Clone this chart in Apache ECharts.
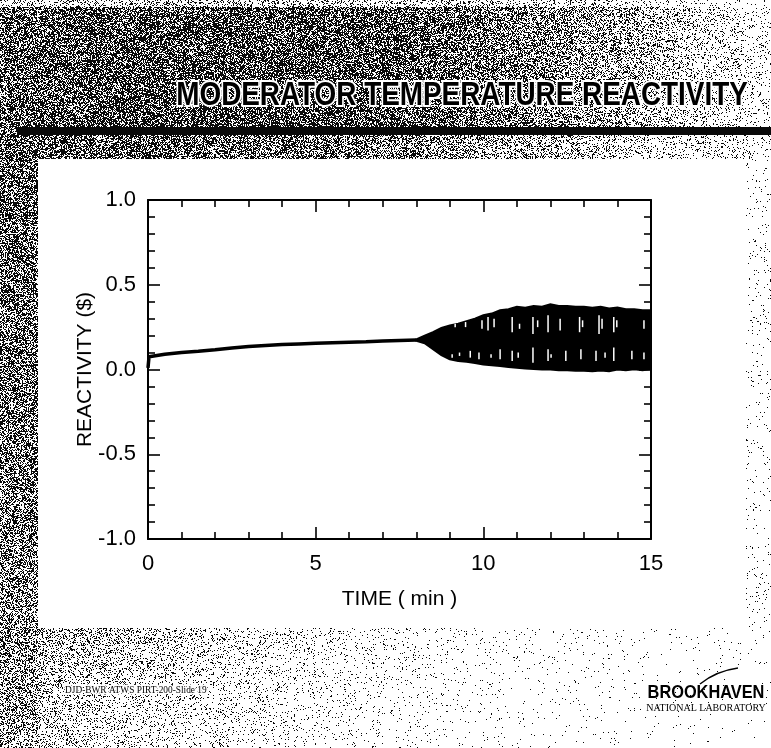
<!DOCTYPE html>
<html>
<head>
<meta charset="utf-8">
<script src="https://cdn.jsdelivr.net/npm/echarts@6/dist/echarts.min.js"></script>
<style>
html,body{margin:0;padding:0;background:#fff;}
#chart{width:771px;height:748px;background-repeat:no-repeat;}
</style>
</head>
<body>
<div id="chart"></div>
<script>
// ---------- data ----------
const titleText = 'MODERATOR TEMPERATURE REACTIVITY';
const xName = 'TIME ( min )';
const yName = 'REACTIVITY ($)';
const footerText = 'DJD-BWR ATWS PIRT-200-Slide 19';
const logoText = 'BROOKHAVEN';
const logoSub = 'NATIONAL LABORATORY';

const xTicks = [0, 5, 10, 15];
const yTicks = [-1.0, -0.5, 0.0, 0.5, 1.0];

// smooth (pre-oscillation) part
const smoothTime = [0, 0.03, 0.5, 1, 1.5, 2, 2.5, 3, 3.5, 4, 4.5, 5, 5.5, 6, 6.5, 7, 7.5, 8];
const smoothReact = [0.01, 0.075, 0.09, 0.10, 0.108, 0.117, 0.127, 0.135, 0.141, 0.147, 0.151, 0.155, 0.158, 0.161, 0.164, 0.168, 0.171, 0.174];

// oscillation envelope (upper / lower)
const bandTime  = [8.0, 8.25, 8.5, 8.75, 9.0, 9.25, 9.5, 9.75, 10.0, 10.25, 10.5, 10.75, 11.0, 11.25, 11.5, 11.75, 12.0, 12.25, 12.5, 12.75, 13.0, 13.25, 13.5, 13.75, 14.0, 14.25, 14.5, 14.75, 15.0];
const bandUpper = [0.178, 0.20, 0.22, 0.245, 0.26, 0.27, 0.285, 0.30, 0.32, 0.33, 0.35, 0.355, 0.37, 0.365, 0.375, 0.37, 0.385, 0.375, 0.375, 0.37, 0.37, 0.365, 0.37, 0.36, 0.365, 0.355, 0.355, 0.35, 0.35];
const bandLower = [0.17, 0.155, 0.12, 0.085, 0.06, 0.05, 0.045, 0.038, 0.03, 0.025, 0.02, 0.015, 0.01, 0.006, 0.003, 0.0, 0.0, -0.004, -0.005, -0.008, -0.007, -0.01, -0.006, -0.01, 0.0, -0.005, 0.002, -0.004, 0.003];

// white gaps visible inside the oscillation band (time, low, high)
const gapTime = [9.16, 9.47, 9.96, 10.14, 10.32, 10.86, 11.08, 11.48, 11.62, 11.93, 12.29, 12.87, 12.96, 13.45, 13.54, 13.89, 13.98, 14.79,
                 9.07, 9.29, 9.61, 9.87, 10.23, 10.5, 10.86, 11.04, 11.48, 11.93, 12.02, 12.46, 12.91, 13.36, 13.63, 13.89, 14.43, 14.79];
const gapLow  = [0.25, 0.25, 0.24, 0.23, 0.25, 0.22, 0.24, 0.21, 0.25, 0.22, 0.23, 0.22, 0.25, 0.21, 0.24, 0.22, 0.25, 0.24,
                 0.07, 0.08, 0.07, 0.06, 0.07, 0.06, 0.05, 0.07, 0.04, 0.05, 0.07, 0.05, 0.06, 0.05, 0.07, 0.05, 0.06, 0.06];
const gapHigh = [0.27, 0.28, 0.29, 0.31, 0.30, 0.31, 0.27, 0.31, 0.29, 0.32, 0.30, 0.31, 0.29, 0.32, 0.30, 0.31, 0.29, 0.29,
                 0.09, 0.10, 0.11, 0.10, 0.09, 0.12, 0.11, 0.10, 0.13, 0.12, 0.09, 0.11, 0.12, 0.11, 0.10, 0.13, 0.11, 0.10];

// ---------- decorative dithered slide background (deterministic) ----------
function pw(v, pts){
  if (v <= pts[0][0]) return pts[0][1];
  for (let i=1;i<pts.length;i++){
    if (v <= pts[i][0]){
      const a=pts[i-1], b=pts[i];
      return a[1] + (b[1]-a[1])*(v-a[0])/(b[0]-a[0]);
    }
  }
  return pts[pts.length-1][1];
}
function hash(x,y){
  let n = Math.imul(x, 374761393) + Math.imul(y, 668265263);
  n = Math.imul(n ^ (n >>> 13), 1274126177);
  n = n ^ (n >>> 16);
  return ((n >>> 0) % 10007) / 10007;
}
function dens(x,y){
  if (y < 127) {
    let d = pw(x, [[0,0.6],[150,0.68],[380,0.66],[470,0.56],[560,0.45],[630,0.32],[700,0.17],[771,0.08]]);
    if (y < 7) d *= 0.35;
    return d;
  }
  if (y < 135) return (x >= 17) ? 1 : 0.6;
  if (y < 159) return pw(x, [[0,0.62],[300,0.56],[450,0.42],[560,0.28],[660,0.16],[771,0.1]]);
  if (x < 38) return pw(y, [[159,0.6],[500,0.52],[620,0.45],[748,0.35]]);
  if (y >= 628) return pw(x, [[38,0.35],[150,0.22],[260,0.13],[380,0.07],[500,0.03],[771,0.01]]) * pw(y, [[628,1],[670,0.75],[748,0.5]]);
  if (x > 745) return 0.03;
  return 0;
}
(function(){
  const W=771, H=748;
  const c=document.createElement('canvas'); c.width=W; c.height=H;
  const g=c.getContext('2d');
  const img=g.createImageData(W,H);
  for(let y=0;y<H;y++){
    for(let x=0;x<W;x++){
      const d=dens(x,y);
      const h=hash(x,y);
      const v = (d>=1 || h<d) ? 10 : 255;
      const k=(y*W+x)*4;
      img.data[k]=v; img.data[k+1]=v; img.data[k+2]=v; img.data[k+3]=255;
    }
  }
  g.putImageData(img,0,0);
  document.getElementById('chart').style.backgroundImage='url('+c.toDataURL()+')';
})();

// ---------- chart ----------
const chart = echarts.init(document.getElementById('chart'), null, {renderer:'canvas'});
const FONT = '"Liberation Sans", Arial, sans-serif';

const axisCommon = {
  type: 'value',
  axisLine: {show:true, onZero:false, lineStyle:{color:'#000', width:2}},
  axisTick: {show:true, inside:true, length:12, lineStyle:{color:'#000', width:1.6}},
  minorTick: {show:true, splitNumber:5, length:7, lineStyle:{color:'#000', width:1.6}},
  splitLine: {show:false},
  minorSplitLine: {show:false}
};

const smoothData = smoothTime.map((t,i)=>[t, smoothReact[i]]);
const gapData = gapTime.map((t,i)=>[t, gapLow[i], gapHigh[i]]);

chart.setOption({
  backgroundColor: 'transparent',
  animation: false,
  grid: {left:148, right:120, top:200, bottom:209, containLabel:false},
  xAxis: [
    Object.assign({}, axisCommon, {
      min: xTicks[0], max: xTicks[xTicks.length-1], interval: 5, position:'bottom',
      axisLabel: {show:true, color:'#000', fontSize:22, fontFamily:FONT, margin:14,
        formatter: v => xTicks.indexOf(v) >= 0 ? String(v) : ''},
      name: xName, nameLocation:'middle', nameGap:50,
      nameTextStyle: {color:'#000', fontSize:21, fontFamily:FONT}
    }),
    Object.assign({}, axisCommon, {
      min: xTicks[0], max: xTicks[xTicks.length-1], interval: 5, position:'top',
      axisLabel: {show:false}
    })
  ],
  yAxis: [
    Object.assign({}, axisCommon, {
      min: yTicks[0], max: yTicks[yTicks.length-1], interval: 0.5, position:'left',
      axisLabel: {show:true, color:'#000', fontSize:22, fontFamily:FONT, margin:12,
        formatter: v => v.toFixed(1)},
      name: yName, nameLocation:'middle', nameGap:52, nameRotate:90, nameMoveOverlap:false,
      nameTextStyle: {color:'#000', fontSize:21, fontFamily:FONT}
    }),
    Object.assign({}, axisCommon, {
      min: yTicks[0], max: yTicks[yTicks.length-1], interval: 0.5, position:'right',
      axisLabel: {show:false}
    })
  ],
  series: [
    {
      type: 'line', data: smoothData, showSymbol:false, symbol:'none',
      lineStyle: {color:'#000', width:3.5}, z: 3
    },
    {
      type: 'custom', data: [[bandTime[0], bandUpper[0]]], z: 3,
      renderItem: function(params, api){
        const pts = [];
        for (let i=0;i<bandTime.length;i++) pts.push(api.coord([bandTime[i], bandUpper[i]]));
        for (let i=bandTime.length-1;i>=0;i--) pts.push(api.coord([bandTime[i], bandLower[i]]));
        return {type:'polygon', shape:{points:pts}, style:{fill:'#000', stroke:'#000', lineWidth:2}};
      }
    },
    {
      type: 'custom', data: gapData, z: 4,
      renderItem: function(params, api){
        const a = api.coord([api.value(0), api.value(1)]);
        const b = api.coord([api.value(0), api.value(2)]);
        return {type:'line', shape:{x1:a[0], y1:a[1], x2:b[0], y2:b[1]}, style:{stroke:'#fff', lineWidth:1.5}};
      }
    }
  ],
  graphic: [
    {type:'text', z:10, x:462, y:96, scaleX:0.82, scaleY:1, style:{
      text:titleText, x:0, y:0, align:'center', verticalAlign:'middle',
      font:'bold 34px "Liberation Sans", Arial, sans-serif',
      fill:'#000', stroke:'#fff', lineWidth:4, strokeFirst:true}},
    {type:'text', z:10, x:65, y:690, scaleX:0.85, style:{
      text:footerText, x:0, y:0, verticalAlign:'middle',
      font:'11px "Liberation Serif", serif', fill:'#000', stroke:'#fff', lineWidth:3, strokeFirst:true}},
    {type:'text', z:10, x:706, y:693, scaleX:0.86, style:{
      text:logoText, x:0, y:0, align:'center', verticalAlign:'middle',
      font:'bold 19px "Liberation Sans", Arial, sans-serif', fill:'#000'}},
    {type:'text', z:10, style:{
      text:logoSub, x:706, y:708, align:'center', verticalAlign:'middle',
      font:'10px "Liberation Serif", serif', fill:'#000'}},
    {type:'bezierCurve', z:10, shape:{x1:700, y1:684, x2:738, y2:668, cpx1:716, cpy1:671},
      style:{stroke:'#000', lineWidth:1.5, fill:null}}
  ]
});
</script>
</body>
</html>
